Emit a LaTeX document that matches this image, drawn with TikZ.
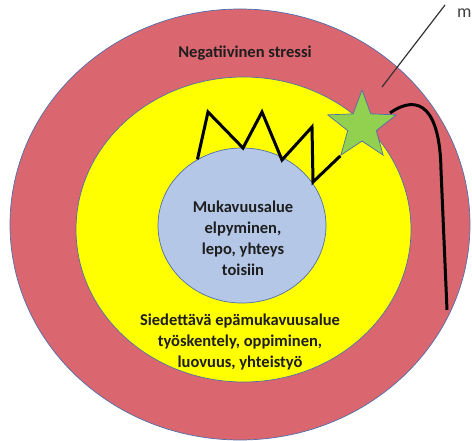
\documentclass[tikz,border=0pt]{standalone}
\usepackage{fontspec}
\setmainfont{Carlito}
\usetikzlibrary{shapes.geometric, positioning}
\definecolor{stressred}{RGB}{218,102,112}
\definecolor{zoneyellow}{RGB}{255,255,0}
\definecolor{comfortblue}{RGB}{180,199,231}
\definecolor{stargreen}{RGB}{146,208,80}
\definecolor{zoneline}{RGB}{80,110,170}
\definecolor{textgray}{RGB}{30,30,30}
\tikzstyle{zone}   = [ellipse, draw=zoneline, line width=0.7pt, inner sep=0pt]
\tikzstyle{label}  = [font=\bfseries\fontsize{16.5}{21}\selectfont, align=center, text=textgray]
\tikzstyle{edge}   = [line width=3pt, line join=miter]

\begin{document}
\begin{tikzpicture}[x=1pt,y=-1pt]
\useasboundingbox (0,0) rectangle (472,441);

\node[zone,fill=stressred,minimum width=460pt,minimum height=431pt] (Outer) at (240,224.5) {};
\node[zone,fill=zoneyellow,minimum width=335pt,minimum height=305pt] (Middle) at (243.5,229.5) {};
\node[zone,fill=comfortblue,minimum width=168pt,minimum height=155pt] (Inner) at (242,225.5) {};

\node[label] (Stress)    at (245,53)  {Negatiivinen stressi};
\node[label] (Comfort)   at (243,238) {Mukavuusalue\\elpyminen,\\lepo, yhteys\\toisiin};
\node[label] (Tolerable) at (240,342) {Siedettävä epämukavuusalue\\työskentely, oppiminen,\\luovuus, yhteistyö};

\node[star,star points=5,star point ratio=2.4,minimum size=72pt,inner sep=0pt,fill=stargreen,draw=zoneline,line width=0.7pt] (Star) at (362,126) {};

\coordinate (TailEnd) at (447,310);
\coordinate (Pin)     at (382,87);
\coordinate (NoteTip) at (445,5);
\node[anchor=base west,inner sep=0pt,font=\fontsize{18}{20}\selectfont,text=black!75] (Note) at (457,18) {m};

\draw[edge] (Inner.124) -- (208,112) -- (243,148) -- (262,112) -- (282,160) -- (312,127) -- (313,182) -- (Star.outer point 3);
\draw[edge] (390,113) .. controls (420,92) and (440,110) .. (441,170) -- (TailEnd);
\draw[line width=1.2pt,black!80] (Pin) -- (NoteTip);

\end{tikzpicture}
\end{document}
